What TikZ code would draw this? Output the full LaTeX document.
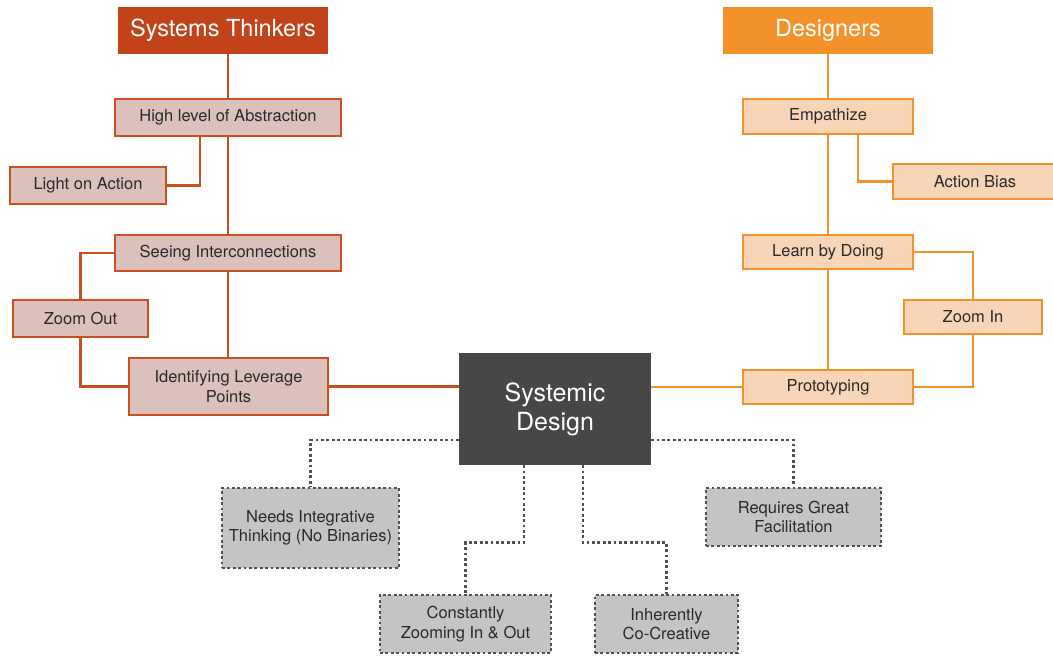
\documentclass[tikz,border=0pt]{standalone}
\usepackage{fontspec}
\setmainfont{TeX Gyre Heros}
\definecolor{thinkred}{HTML}{C2431A}
\definecolor{thinkline}{HTML}{C8511F}
\definecolor{thinkfill}{HTML}{DCC0BB}
\definecolor{desorange}{HTML}{F3922A}
\definecolor{desfill}{HTML}{F8D5B7}
\definecolor{notefill}{HTML}{C4C4C4}
\definecolor{noteline}{HTML}{505050}
\definecolor{corefill}{HTML}{474747}
\definecolor{textdark}{HTML}{2A2A2A}
\begin{document}
\begin{tikzpicture}[x=1pt,y=-1pt,
  base/.style={rectangle, inner sep=0pt, align=center,
    font=\fontsize{16.5}{19.5}\selectfont, text=textdark},
  head/.style={base, font=\fontsize{23.5}{27}\selectfont, text=white},
  thinkhead/.style={head, fill=thinkred},
  deshead/.style={head, fill=desorange},
  thinkbox/.style={base, fill=thinkfill, draw=thinkline, line width=2.8pt},
  desbox/.style={base, fill=desfill, draw=desorange, line width=2.5pt},
  notebox/.style={base, fill=notefill, draw=noteline, line width=2.8pt,
    dash pattern=on 2.8pt off 2.6pt},
  corebox/.style={base, fill=corefill, text=white,
    font=\fontsize{25}{29}\selectfont},
  thinkwire/.style={draw=thinkline, line width=2.8pt},
  deswire/.style={draw=desorange, line width=2.5pt},
  notewire/.style={draw=noteline, line width=2.8pt, dash pattern=on 2.8pt off 2.6pt}
]
\useasboundingbox (0,0) rectangle (1053,656);

% systems thinkers branch
\node[thinkhead, minimum width=210, minimum height=47] (st) at (223,30.5) {Systems Thinkers};
\node[thinkbox, minimum width=226, minimum height=37] (abs) at (228,117.5) {High level of Abstraction};
\node[thinkbox, minimum width=156, minimum height=37] (light) at (88,185.5) {Light on Action};
\node[thinkbox, minimum width=226, minimum height=36] (seeing) at (228,253) {Seeing Interconnections};
\node[thinkbox, minimum width=135, minimum height=37] (zoomout) at (80.5,318.5) {Zoom Out};
\node[thinkbox, minimum width=199, minimum height=57] (lev) at (228.5,386.5) {Identifying Leverage\\Points};

% designers branch
\node[deshead, minimum width=210, minimum height=47] (des) at (828,30.5) {Designers};
\node[desbox, minimum width=170, minimum height=35] (emp) at (828,116.5) {Empathize};
\node[desbox, minimum width=164, minimum height=35] (bias) at (975,181.5) {Action Bias};
\node[desbox, minimum width=170, minimum height=34] (learn) at (828,252) {Learn by Doing};
\node[desbox, minimum width=138, minimum height=34] (zoomin) at (973,317) {Zoom In};
\node[desbox, minimum width=170, minimum height=34] (proto) at (828,387) {Prototyping};

% core
\node[corebox, minimum width=192, minimum height=112] (sd) at (555,409) {Systemic\\Design};

% notes
\node[notebox, minimum width=177, minimum height=80] (needs) at (310.5,528) {Needs Integrative\\Thinking (No Binaries)};
\node[notebox, minimum width=175, minimum height=58] (req) at (793.5,517) {Requires Great\\Facilitation};
\node[notebox, minimum width=171, minimum height=58] (const) at (465.5,624) {Constantly\\Zooming In \& Out};
\node[notebox, minimum width=143, minimum height=58] (inh) at (666.5,624) {Inherently\\Co-Creative};

% left connectors
\draw[thinkwire] (abs.north) -- (abs.north |- st.south);
\draw[thinkwire] (abs.south) -- (seeing.north);
\draw[thinkwire] (light.east) -| ([xshift=-28pt]abs.south);
\draw[thinkwire] (seeing.south) -- (seeing.south |- lev.north);
\draw[thinkwire] (seeing.west) -| (zoomout.north);
\draw[thinkwire] (zoomout.south) |- (lev.west);
\draw[thinkwire] (lev.east) -- (lev.east -| sd.west);

% right connectors
\draw[deswire] (des.south) -- (emp.north);
\draw[deswire] (emp.south) -- (learn.north);
\draw[deswire] ([xshift=30pt]emp.south) |- (bias.west);
\draw[deswire] (learn.south) -- (proto.north);
\draw[deswire] (learn.east) -| (zoomin.north);
\draw[deswire] (zoomin.south) |- (proto.east);
\draw[deswire] (proto.west) -- (proto.west -| sd.east);

% dotted connectors
\draw[notewire] ([yshift=-31pt]sd.west) -| (needs.north);
\draw[notewire] ([yshift=-31pt]sd.east) -| (req.north);
\draw[notewire] ([xshift=-31pt]sd.south) |- ([yshift=51pt]const.north) -- (const.north);
\draw[notewire] ([xshift=28pt]sd.south) |- ([yshift=51pt]inh.north) -- (inh.north);
\end{tikzpicture}
\end{document}
